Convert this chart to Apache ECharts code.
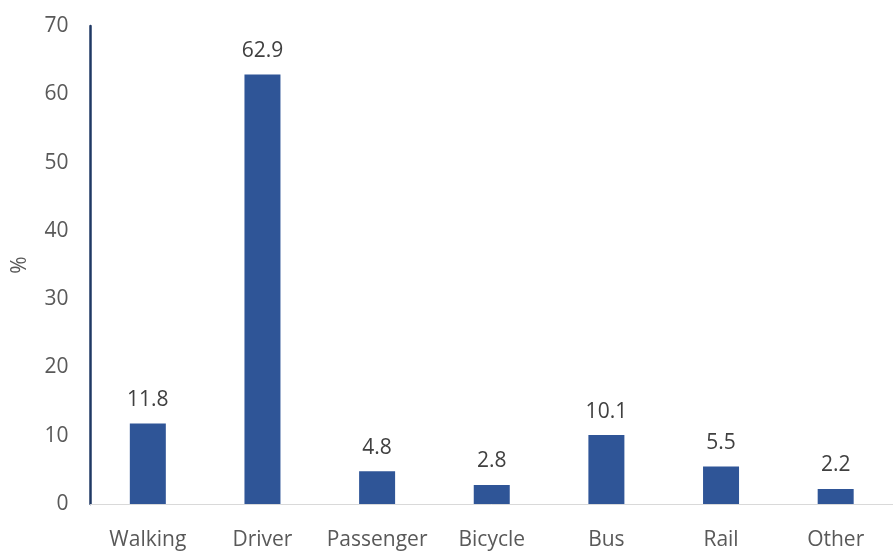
<!DOCTYPE html>
<html><head><meta charset="utf-8">
<script src="https://cdn.jsdelivr.net/npm/echarts@6/dist/echarts.min.js"></script>
<style>html,body{margin:0;padding:0;background:#fff}#c{width:893px;height:551px}</style>
</head><body><div id="c"></div>
<script>
const categories = ["Walking","Driver","Passenger","Bicycle","Bus","Rail","Other"];
const values = [11.8, 62.9, 4.8, 2.8, 10.1, 5.5, 2.2];
const yTicks = [0,10,20,30,40,50,60,70];

const chart = echarts.init(document.getElementById('c'), null, {renderer:'canvas'});
chart.setOption({
  animation:false,
  grid:{left:90.5, top:26, width:811, height:484, containLabel:false},
  xAxis:{
    type:'category', data:categories,
    axisLine:{show:true, lineStyle:{color:'#d9d9d9', width:1}},
    axisTick:{show:false},
    axisLabel:{interval:0, color:'#595959', fontFamily:'Open Sans', fontSize:21, margin:26}
  },
  yAxis:{
    type:'value', min:0, max:70, interval:10,
    name:'%', nameLocation:'middle', nameGap:60, nameRotate:90,
    nameTextStyle:{color:'#595959', fontFamily:'Open Sans', fontSize:21},
    axisLine:{show:true, lineStyle:{color:'#1f3864', width:2.5}},
    axisTick:{show:false},
    splitLine:{show:false},
    axisLabel:{color:'#595959', fontFamily:'Open Sans', fontSize:21, margin:22,
      formatter:v=>yTicks.includes(v)?String(v):''}
  },
  series:[{
    type:'bar', data:values, barWidth:36,
    itemStyle:{color:'#2f5597'},
    label:{show:true, position:'top', distance:13, color:'#404040', fontFamily:'Open Sans', fontSize:21}
  }]
});
</script></body></html>
